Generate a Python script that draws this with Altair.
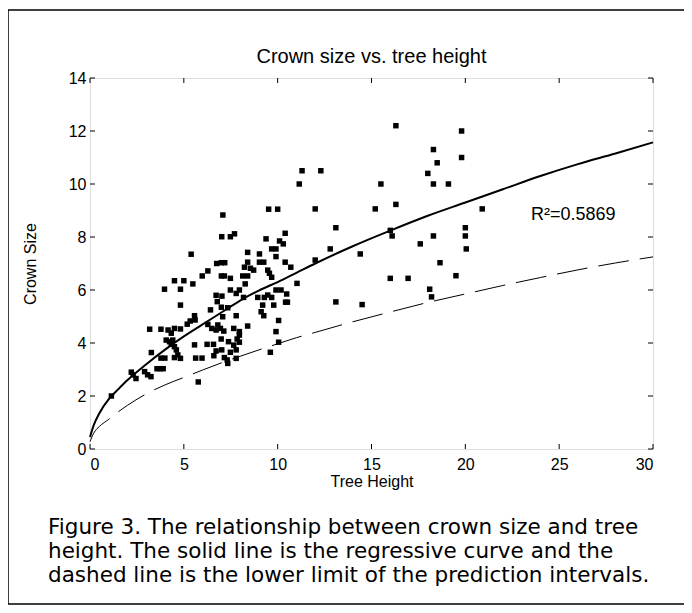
import altair as alt
import pandas as pd

# ---------------- data ----------------
tree_height = [1.14, 2.2, 2.3, 2.45, 2.91, 3.07, 3.25, 3.18, 3.27, 3.57, 3.74, 3.9, 3.78, 3.99, 3.78, 3.97,
               4.06, 4.16, 4.24, 4.33, 4.41, 4.33, 4.5, 4.6, 4.68, 4.5, 4.82, 4.5, 4.82, 4.5, 4.82, 4.82,
               5.0, 5.18, 5.34, 5.39, 5.48, 5.57, 5.6, 5.57, 5.63, 5.97, 5.77, 5.98,
               6.24, 6.58, 6.6, 6.72, 6.28, 6.42, 6.28, 6.49, 6.78, 6.72, 7.03, 6.75, 7.0, 7.18,
               6.81, 6.95, 6.72, 7.13, 6.99, 7.0, 7.16, 7.0, 7.34, 7.07, 7.02, 7.16, 7.31, 7.34,
               7.08, 7.02, 7.48, 7.7, 7.48, 7.48, 7.79, 7.96, 7.79, 7.66, 7.96, 7.96, 7.38, 7.84,
               7.66, 7.96, 7.48, 7.79, 7.79,
               8.14, 8.4, 8.23, 8.55, 8.72, 8.4, 8.27, 8.4, 8.4, 8.94, 8.18,
               9.03, 9.26, 9.03, 9.47, 9.56, 9.68, 9.29, 9.47, 9.68, 9.91, 9.12, 9.26, 9.2, 9.79,
               9.52, 9.38, 9.68, 9.91, 9.91, 9.91, 9.61,
               10.0, 10.05, 10.05, 10.1, 10.3, 10.4, 10.18, 10.48, 10.4, 10.7, 10.42, 10.52, 11.03,
               11.15, 11.3, 12.3, 12.0, 12.0, 12.8, 13.1, 13.1, 14.4, 14.5, 15.2, 15.5,
               16.0, 16.1, 16.0, 16.3, 16.3, 16.95, 17.6, 18.0, 18.3, 18.5, 18.3, 19.1, 18.3,
               18.65, 18.1, 18.2, 19.5, 19.8, 19.8, 20.0, 20.0, 20.05, 20.9]
crown_size = [2.0, 2.9, 2.8, 2.66, 2.92, 2.8, 2.73, 4.52, 3.64, 3.03, 3.03, 3.03, 3.43, 3.43, 4.52, 6.03,
              4.11, 4.49, 4.05, 4.37, 4.11, 3.95, 3.86, 3.74, 3.55, 3.45, 3.42, 4.55, 4.53, 6.35, 6.03, 5.43,
              6.35, 4.71, 4.83, 7.35, 6.23, 5.03, 4.87, 3.93, 3.43, 3.43, 2.53, 6.53,
              3.95, 3.95, 3.52, 3.7, 6.72, 5.25, 4.7, 4.55, 5.56, 5.8, 5.77, 7.0, 7.03, 7.03,
              4.68, 4.55, 4.49, 4.45, 4.15, 6.53, 6.53, 5.35, 5.33, 4.99, 3.74, 3.45, 3.36, 3.23,
              8.83, 8.01, 8.01, 8.12, 6.44, 6.0, 5.87, 6.0, 5.03, 4.55, 4.43, 4.3, 4.05, 4.15,
              3.92, 4.03, 3.65, 3.74, 3.42,
              6.53, 6.53, 6.86, 6.82, 6.75, 7.05, 6.23, 7.42, 4.64, 5.72, 5.72,
              7.05, 7.05, 7.36, 6.75, 6.63, 6.48, 5.72, 5.81, 5.72, 6.0, 5.18, 5.03, 5.43, 5.43,
              9.05, 7.93, 7.55, 7.55, 7.26, 4.43, 3.65,
              9.05, 4.85, 4.03, 7.85, 7.74, 8.14, 6.0, 5.85, 7.05, 6.86, 5.54, 5.54, 6.25,
              10.0, 10.5, 10.5, 9.06, 7.13, 7.55, 8.35, 5.55, 7.36, 5.45, 9.06, 10.0,
              8.25, 8.04, 6.44, 12.2, 9.23, 6.44, 7.74, 10.4, 11.3, 10.8, 10.0, 10.0, 8.04,
              7.03, 6.03, 5.74, 6.54, 12.0, 11.0, 8.35, 8.04, 7.55, 9.06]

curve_x = [0, 0.2, 0.5, 1, 1.5, 2, 3, 4, 5, 6, 7, 8, 9, 10, 11, 12, 14, 16, 18, 20, 22, 24, 26, 28, 30]
fit_y = [0.45, 0.9, 1.35, 1.88, 2.25, 2.6, 3.2, 3.75, 4.25, 4.7, 5.15, 5.6, 5.98, 6.3, 6.65, 7.0,
         7.65, 8.24, 8.8, 9.3, 9.8, 10.3, 10.75, 11.15, 11.57]
lower_y = [0.28, 0.6, 0.85, 1.12, 1.4, 1.65, 2.08, 2.42, 2.7, 2.98, 3.25, 3.5, 3.74, 3.97, 4.2, 4.4,
           4.8, 5.17, 5.53, 5.85, 6.17, 6.47, 6.76, 7.02, 7.25]

x_ticks = [0, 5, 10, 15, 20, 25, 30]
y_ticks = [0, 2, 4, 6, 8, 10, 12, 14]

r2_label = ["R²=0.5869"]
r2_pos = [23.5, 8.83]

title_text = "Crown size vs. tree height"
x_title = "Tree Height"
y_title = "Crown Size"
caption = ["Figure 3. The relationship between crown size and tree",
           "height. The solid line is the regressive curve and the",
           "dashed line is the lower limit of the prediction intervals."]

# ---------------- chart ----------------
W, H = 563, 371
FONT = "Liberation Sans"
CAPFONT = "DejaVu Sans"

pts = pd.DataFrame({"h": tree_height, "c": crown_size})
curves = pd.DataFrame({"h": curve_x, "fit": fit_y, "low": lower_y})
xt = pd.DataFrame({"h": x_ticks})
yt = pd.DataFrame({"c": y_ticks})

xs = alt.Scale(domain=[0, 30], nice=False, zero=False)
ys = alt.Scale(domain=[0, 14], nice=False, zero=False)

xaxis = alt.Axis(values=x_ticks, ticks=False, domain=False, grid=False, labelFont=FONT,
                 labelFontSize=16, labelColor="black", labelPadding=7, title=x_title,
                 titleFont=FONT, titleFontSize=16, titleFontWeight="normal", titleColor="black",
                 titleX=W / 2, titleY=32, titleBaseline="middle", titleAlign="center")
yaxis = alt.Axis(values=y_ticks, ticks=False, domain=False, grid=False, labelFont=FONT,
                 labelFontSize=16, labelColor="black", labelPadding=4, title=y_title,
                 titleFont=FONT, titleFontSize=16, titleFontWeight="normal", titleColor="black",
                 titleX=-60, titleY=H / 2, titleAngle=-90, titleBaseline="middle", titleAlign="center")


def X(field):
    return alt.X(field, type="quantitative", scale=xs, axis=xaxis, title=x_title)


def Y(field):
    return alt.Y(field, type="quantitative", scale=ys, axis=yaxis, title=y_title)


points = alt.Chart(pts).mark_square(size=30, color="black", opacity=1).encode(x=X("h"), y=Y("c"))

fit_line = alt.Chart(curves).mark_line(color="black", strokeWidth=2, interpolate="monotone").encode(
    x=X("h"), y=Y("fit"))
low_line = alt.Chart(curves).mark_line(color="black", strokeWidth=1, strokeDash=[31, 11],
                                       interpolate="monotone").encode(x=X("h"), y=Y("low"))

r2 = alt.Chart(pd.DataFrame({"h": [r2_pos[0]], "c": [r2_pos[1]], "t": r2_label})).mark_text(
    align="left", baseline="middle", font=FONT, fontSize=18, color="black"
).encode(x=X("h"), y=Y("c"), text="t:N")

tb = alt.Chart(xt).mark_rule(color="black", strokeWidth=1).encode(
    x=X("h"), y=alt.value(H), y2=alt.value(H - 5))
tt = alt.Chart(xt).mark_rule(color="black", strokeWidth=1).encode(
    x=X("h"), y=alt.value(0), y2=alt.value(5))
tl = alt.Chart(yt).mark_rule(color="black", strokeWidth=1).encode(
    y=Y("c"), x=alt.value(0), x2=alt.value(5))
tr = alt.Chart(yt).mark_rule(color="black", strokeWidth=1).encode(
    y=Y("c"), x=alt.value(W), x2=alt.value(W - 5))

one = pd.DataFrame({"a": [0]})
ttl = alt.Chart(one).mark_text(align="center", baseline="middle", font=FONT, fontSize=20,
                               color="black").encode(
    x=alt.value(W / 2), y=alt.value(-21), text=alt.value(title_text))

cap = alt.Chart(one).mark_text(
    align="left", baseline="middle", font=CAPFONT, fontSize=21.5, lineHeight=24, color="black"
).encode(x=alt.value(-42), y=alt.value(450), text=alt.value(caption))

border = alt.Chart(one).mark_rect(
    fillOpacity=0, stroke="black", strokeWidth=1.5
).encode(x=alt.value(-82), x2=alt.value(595), y=alt.value(-68), y2=alt.value(526))

chart = alt.layer(points, fit_line, low_line, r2, tb, tt, tl, tr, ttl, cap, border).properties(
    width=W, height=H,
    autosize=alt.AutoSizeParams(type="none"),
    padding={"left": 82, "top": 70, "right": 31, "bottom": 156},
).configure_view(stroke="black", strokeWidth=1).configure(background="white")

chart.save("out.html", embed_options={"renderer": "svg", "actions": False})
